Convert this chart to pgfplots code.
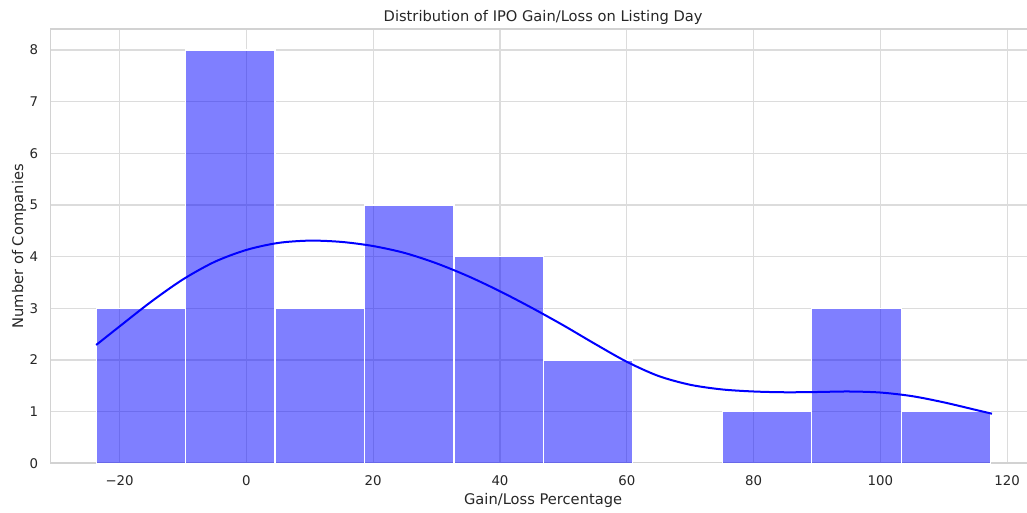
\documentclass[border=0pt]{standalone}
\usepackage{pgfplots}
\pgfplotsset{compat=1.18}
\usepackage{fontspec}
\setmainfont{DejaVu Sans}
\definecolor{gridc}{HTML}{DCDCDC}
\definecolor{spinec}{HTML}{D2D2D2}
\definecolor{txt}{HTML}{262626}
\definecolor{barblue}{RGB}{0,0,255}
\begin{document}
\begin{tikzpicture}
\begin{axis}[
  scale only axis, width=738.9pt, height=325.5pt,
  xmin=-30.9, xmax=124.5, ymin=0, ymax=8.4,
  xtick={-20,0,20,40,60,80,100,120},
  xticklabels={−20,0,20,40,60,80,100,120},
  ytick={0,1,2,3,4,5,6,7,8},
  major tick length=0pt,
  grid=major, major grid style={draw=gridc, line width=0.8pt},
  axis line style={draw=spinec, line width=1.25pt},
  tick label style={font=\fontsize{10}{12}\selectfont, text=txt},
  /pgf/number format/assume math mode=true,
  xticklabel style={yshift=-5.5pt},
  yticklabel style={xshift=-5.8pt},
  xlabel={Gain/Loss Percentage}, ylabel={Number of Companies},
  every axis x label/.style={at={(axis description cs:0.5,-0.0949)}, anchor=base, font=\fontsize{11}{13}\selectfont, text=txt},
  every axis y label/.style={at={(axis description cs:-0.0279,0.5)}, rotate=90, anchor=base, font=\fontsize{11}{13}\selectfont, text=txt},
  title={Distribution of IPO Gain/Loss on Listing Day},
  every axis title/.style={at={(axis description cs:0.5,1.0184)}, anchor=base, font=\fontsize{11}{13}\selectfont, text=txt},
]
\addplot[ybar interval, fill=barblue, fill opacity=0.5, draw=white, line width=0.9pt] coordinates {
  (-23.70,3) (-9.59,8) (4.52,3) (18.63,5) (32.74,4) (46.85,2) (60.96,0) (75.07,1) (89.18,3) (103.29,1) (117.40,1)
};
\addplot[smooth, draw=barblue, line width=1.5pt, no marks] coordinates {
  (-23.7,2.29) (-20,2.65) (-15,3.13) (-10,3.56) (-5,3.90) (0,4.13) (5,4.265) (10,4.31) (15,4.285) (20,4.205) (25,4.07) (30,3.87) (35,3.62) (40,3.33) (45,3.01) (50,2.67) (55,2.31) (60,1.965) (65,1.69) (70,1.52) (75,1.43) (80,1.39) (85,1.375) (90,1.38) (95,1.39) (100,1.37) (105,1.30) (110,1.18) (115,1.035) (117.6,0.96)
};
\end{axis}
\pgfresetboundingbox
\path[use as bounding box] (-37.875pt,-36.525pt) rectangle (732.375pt,347.475pt);
\end{tikzpicture}
\end{document}
